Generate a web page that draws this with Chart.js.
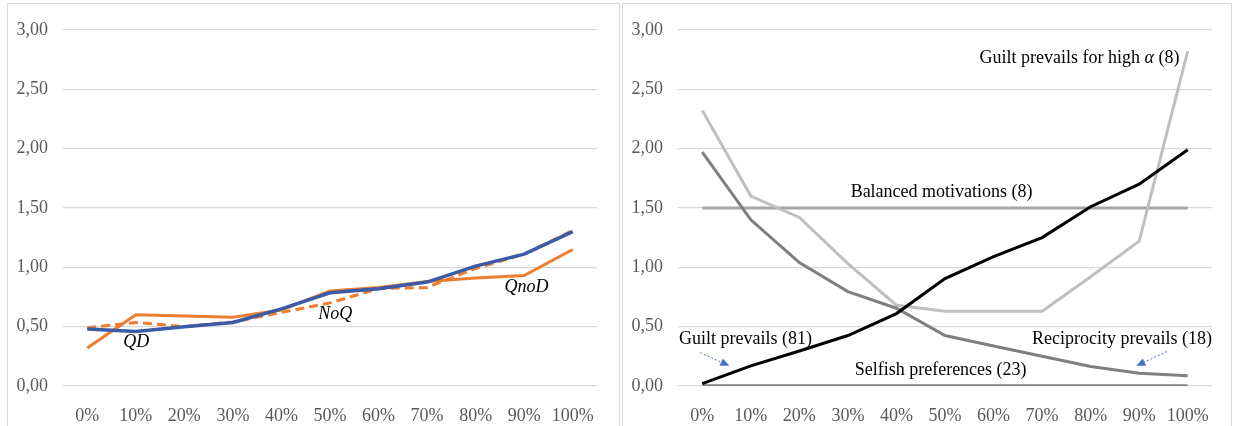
<!DOCTYPE html>
<html>
<head>
<meta charset="utf-8">
<script src="https://cdn.jsdelivr.net/npm/chart.js@4"></script>
<style>
body { margin: 0; background: #fff; width: 1233px; height: 426px; overflow: hidden; position: relative; }
.painel { position: absolute; top: 3px; height: 440px; border: 1px solid #d9d9d9; }
#painelEsq { left: 7px; width: 611px; }
#painelDir { left: 622px; width: 608px; }
.painel canvas { display: block; }
</style>
</head>
<body>
<div class="painel" id="painelEsq"><canvas id="graficoEsq" width="611" height="422"></canvas></div>
<div class="painel" id="painelDir"><canvas id="graficoDir" width="608" height="422"></canvas></div>
<script>
// === Dados ===
const categorias = ['0%', '10%', '20%', '30%', '40%', '50%', '60%', '70%', '80%', '90%', '100%'];
const rotulosY = ['0,00', '0,50', '1,00', '1,50', '2,00', '2,50', '3,00'];

// painel esquerdo
const qd   = [0.48, 0.46, 0.50, 0.535, 0.65, 0.785, 0.82, 0.875, 1.01, 1.11, 1.30];
const noq  = [0.49, 0.535, 0.50, 0.54, 0.62, 0.70, 0.82, 0.83, 0.99, 1.11, 1.31];
const qnod = [0.32, 0.60, 0.59, 0.58, 0.64, 0.80, 0.83, 0.88, 0.91, 0.93, 1.15];

// painel direito
const culpa         = [0.02, 0.17, 0.295, 0.425, 0.61, 0.905, 1.09, 1.25, 1.51, 1.70, 1.99];
const reciprocidade = [1.97, 1.40, 1.04, 0.795, 0.655, 0.425, 0.337, 0.25, 0.165, 0.107, 0.087];
const culpaAlfaAlto = [2.32, 1.60, 1.42, 1.03, 0.68, 0.63, 0.63, 0.63, 0.92, 1.22, 2.82];
const equilibrado   = [1.5, 1.5, 1.5, 1.5, 1.5, 1.5, 1.5, 1.5, 1.5, 1.5, 1.5];
const egoista       = [0, 0, 0, 0, 0, 0, 0, 0, 0, 0, 0];

Chart.defaults.font.family = "'Liberation Serif', 'DejaVu Serif', serif";

// === Plugin de anotações (textos e setas em coordenadas de dados) ===
const pluginAnotacoes = {
    id: 'anotacoes',
    afterDatasetsDraw(chart, args, opts) {
        const ctx = chart.ctx;
        const sx = chart.scales.x, sy = chart.scales.y;
        ctx.save();
        (opts.itens || []).forEach(a => {
            if (a.seta) {
                const x1 = sx.getPixelForValue(a.seta[0]), y1 = sy.getPixelForValue(a.seta[1]);
                const x2 = sx.getPixelForValue(a.seta[2]), y2 = sy.getPixelForValue(a.seta[3]);
                const ang = Math.atan2(y2 - y1, x2 - x1);
                ctx.strokeStyle = '#4472c4';
                ctx.fillStyle = '#4472c4';
                ctx.lineWidth = 1;
                ctx.setLineDash([2, 2]);
                ctx.beginPath();
                ctx.moveTo(x1, y1);
                ctx.lineTo(x2 - 6 * Math.cos(ang), y2 - 6 * Math.sin(ang));
                ctx.stroke();
                ctx.setLineDash([]);
                ctx.beginPath();
                ctx.moveTo(x2, y2);
                ctx.lineTo(x2 - 9 * Math.cos(ang) + 4 * Math.sin(ang), y2 - 9 * Math.sin(ang) - 4 * Math.cos(ang));
                ctx.lineTo(x2 - 9 * Math.cos(ang) - 4 * Math.sin(ang), y2 - 9 * Math.sin(ang) + 4 * Math.cos(ang));
                ctx.closePath();
                ctx.fill();
                return;
            }
            const partes = a.partes || [{ t: a.texto, i: a.italico }];
            const fonte = i => (i ? 'italic ' : '') + "18px 'Liberation Serif', serif";
            let total = 0;
            partes.forEach(p => { ctx.font = fonte(p.i); total += ctx.measureText(p.t).width; });
            let x = sx.getPixelForValue(a.x);
            const y = sy.getPixelForValue(a.y);
            if (a.alinhar === 'right') x -= total;
            else if (a.alinhar !== 'left') x -= total / 2;
            ctx.fillStyle = '#000';
            ctx.textBaseline = 'middle';
            ctx.textAlign = 'left';
            partes.forEach(p => {
                ctx.font = fonte(p.i);
                ctx.fillText(p.t, x, y);
                x += ctx.measureText(p.t).width;
            });
        });
        ctx.restore();
    }
};

// === Gráficos ===
function criarGrafico(id, datasets, anotacoes, padDir) {
    return new Chart(document.getElementById(id), {
        type: 'line',
        data: { labels: categorias, datasets },
        options: {
            responsive: false,
            animation: false,
            layout: { padding: { top: 21, right: padDir, left: 0, bottom: 0 } },
            elements: {
                point: { radius: 0, hoverRadius: 0 },
                line: { tension: 0, borderWidth: 3, fill: false }
            },
            plugins: {
                legend: { display: false },
                tooltip: { enabled: false },
                anotacoes: { itens: anotacoes }
            },
            scales: {
                x: {
                    offset: true,
                    grid: { display: false },
                    border: { display: false },
                    ticks: { color: '#595959', padding: 11, font: { size: 18 }, maxRotation: 0, autoSkip: false },
                    afterFit: s => { s.height = 40; }
                },
                y: {
                    min: 0,
                    max: 3,
                    grid: { color: '#d9d9d9', lineWidth: 1.3, drawTicks: false },
                    border: { display: false },
                    ticks: {
                        stepSize: 0.5,
                        padding: 15,
                        color: '#595959',
                        font: { size: 18 },
                        callback: (v, i) => rotulosY[i]
                    },
                    afterFit: s => { s.width = 55; }
                }
            }
        },
        plugins: [pluginAnotacoes]
    });
}

criarGrafico('graficoEsq', [
    { label: 'QD', data: qd, borderColor: '#3a5ca6', borderWidth: 3.5 },
    { label: 'NoQ', data: noq, borderColor: '#ed7d31', borderDash: [9, 5] },
    { label: 'QnoD', data: qnod, borderColor: '#ed7d31' }
], [
    { texto: 'QD', x: 1.01, y: 0.37, italico: true },
    { texto: 'NoQ', x: 5.11, y: 0.60, italico: true },
    { texto: 'QnoD', x: 9.05, y: 0.83, italico: true }
], 22);

criarGrafico('graficoDir', [
    { label: 'Guilt prevails', data: culpa, borderColor: '#000000' },
    { label: 'Reciprocity prevails', data: reciprocidade, borderColor: '#7f7f7f' },
    { label: 'Guilt prevails for high alpha', data: culpaAlfaAlto, borderColor: '#bfbfbf' },
    { label: 'Balanced motivations', data: equilibrado, borderColor: '#a6a6a6' },
    { label: 'Selfish preferences', data: egoista, borderColor: '#7f7f7f', borderWidth: 3.5 }
], [
    { partes: [{ t: 'Guilt prevails for high ', i: false }, { t: 'α', i: true }, { t: ' (8)', i: false }], x: 9.83, y: 2.76, alinhar: 'right' },
    { texto: 'Balanced motivations (8)', x: 4.93, y: 1.63 },
    { texto: 'Guilt prevails (81)', x: 0.89, y: 0.39 },
    { texto: 'Reciprocity prevails (18)', x: 10.5, y: 0.39, alinhar: 'right' },
    { texto: 'Selfish preferences (23)', x: 4.91, y: 0.13 },
    { seta: [-0.04, 0.28, 0.56, 0.17] },
    { seta: [9.57, 0.29, 8.94, 0.17] }
], 19);
</script>
</body>
</html>
